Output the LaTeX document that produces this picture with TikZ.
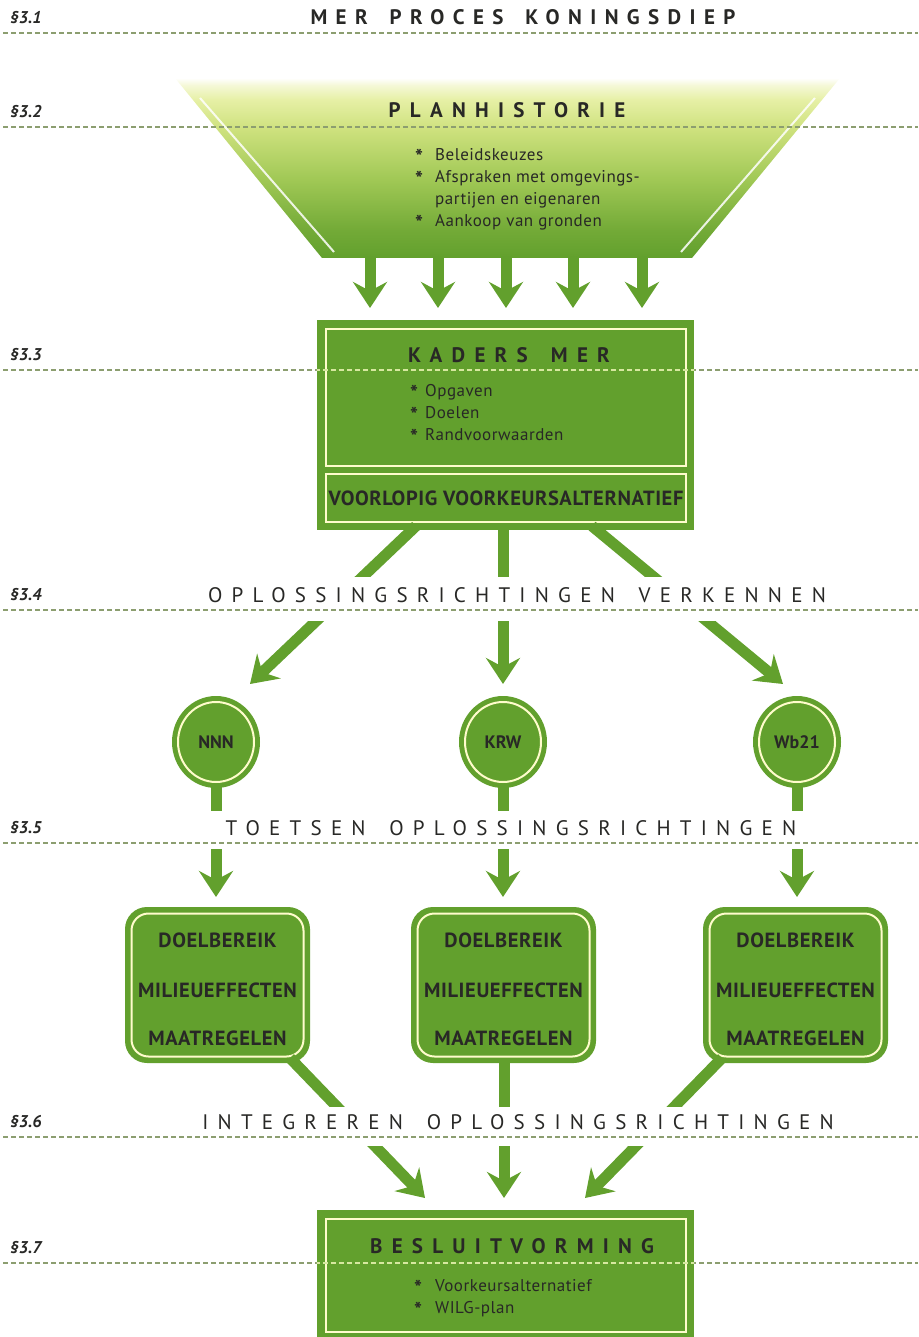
\documentclass[tikz,border=0pt]{standalone}
\usepackage{fontspec}
\setmainfont{PT Sans}
\newfontfamily\spacedA[LetterSpace=40,WordSpace=1.6]{PT Sans}
\newfontfamily\spacedB[LetterSpace=44,WordSpace=1.6]{PT Sans}
\newfontfamily\bodyf[LetterSpace=3]{PT Sans}
\usetikzlibrary{arrows.meta,shapes.geometric}
\definecolor{gr}{RGB}{98,160,45}
\definecolor{txt}{RGB}{40,40,38}
\definecolor{dashc}{RGB}{140,158,112}
\definecolor{dashlt}{RGB}{215,232,160}
\pgfdeclareverticalshading{trapshade}{100bp}{%
  color(0bp)=(gr); color(25bp)=(gr);
  rgb(32.8bp)=(0.451,0.667,0.216);
  rgb(46.7bp)=(0.627,0.784,0.333);
  rgb(60.6bp)=(0.804,0.882,0.490);
  rgb(68.9bp)=(0.902,0.941,0.647);
  rgb(73bp)=(0.961,0.973,0.843);
  color(75bp)=(white); color(100bp)=(white)}
\begin{document}
\begin{tikzpicture}[x=1pt,y=-1pt,
  sec/.style={font=\fontsize{17}{20}\selectfont\itshape\bfseries, text=txt, anchor=west, inner sep=0pt},
  ttlA/.style={font=\spacedA\fontsize{21}{24}\selectfont\bfseries, text=txt, inner sep=0pt},
  ttl/.style={font=\spacedB\fontsize{21}{24}\selectfont\bfseries, text=txt, inner sep=0pt},
  bttl/.style={font=\spacedB\fontsize{21}{24}\selectfont, text=txt, inner sep=0pt},
  dsh/.style={draw=dashc, line width=1.6pt, dash pattern=on 4.5pt off 3.5pt},
  dshlt/.style={draw=dashlt, line width=1.6pt, dash pattern=on 4.5pt off 3.5pt},
  gbox/.style={fill=gr, draw=none, rectangle, inner sep=0pt},
  wbox/.style={draw=white!80!yellow, line width=2pt, rectangle, inner sep=0pt},
  arr/.style={draw=gr, fill=gr, line width=11pt, -{Stealth[length=26pt,width=34pt,inset=9pt]}},
  lbl/.style={font=\bodyf\bfseries\fontsize{20.5}{22}\selectfont, text=txt, inner sep=0pt},
  clbl/.style={font=\bfseries\fontsize{18}{20}\selectfont, text=txt},
  bul/.style={font=\bodyf\fontsize{17}{22}\selectfont, text=txt, align=left, anchor=north west, inner sep=0pt},
  band/.style={fill=white, draw=none}
]
\useasboundingbox (0,0) rectangle (918,1337);

% ---------- Planhistorie trapezoid ----------
\shade[shading=trapshade]
  (175,78) -- (840,78) -- (692,258) -- (322,258) -- cycle;
\draw[white, line width=2pt, opacity=0.85] (200,98) -- (334,252);
\draw[white, line width=2pt, opacity=0.85] (815,98) -- (681,252);
\coordinate (plan) at (507,258);

% ---------- Kaders MER ----------
\node[gbox, minimum width=377pt, minimum height=210pt] (kaders) at (505.5,425) {};
\node[wbox, minimum width=360pt, minimum height=137pt] (kin) at (506,397.5) {};
\node[wbox, minimum width=360pt, minimum height=48pt, lbl] (vva) at (506,498) {VOORLOPIG VOORKEURSALTERNATIEF};

% ---------- arrows planhistorie -> kaders ----------
\foreach \x/\n in {370/1,438/2,506/3,573/4,642/5}{
  \coordinate (ps\n) at (\x,256);
  \coordinate (pt\n) at (\x,308);
  \draw[arr] (ps\n) -- (pt\n);
}

% ---------- circles ----------
\foreach \n/\x/\t in {nnn/216/NNN,krw/503/KRW,wb/797/Wb21}{
  \node[ellipse, fill=gr, draw=none, minimum width=88pt, minimum height=92pt, inner sep=0pt] (\n) at (\x,742) {};
  \node[ellipse, draw=white!80!yellow, line width=2pt, minimum width=76pt, minimum height=80pt, inner sep=0pt, clbl] (\n i) at (\x,742) {\t};
}

% ---------- rounded boxes ----------
\foreach \n/\x in {b1/217.5,b2/503.5,b3/795.5}{
  \node[fill=gr, draw=none, rounded corners=22pt, minimum width=185pt, minimum height=156pt, inner sep=0pt] (\n) at (\x,985) {};
  \node[draw=white!80!yellow, line width=2pt, rounded corners=17pt, minimum width=172pt, minimum height=143pt, inner sep=0pt] (\n i) at (\x,985) {};
  \node[lbl] (\n a) at (\x,940) {DOELBEREIK};
  \node[lbl] (\n b) at (\x,990) {MILIEUEFFECTEN};
  \node[lbl] (\n c) at (\x,1038) {MAATREGELEN};
}

% ---------- Besluitvorming ----------
\node[gbox, minimum width=377pt, minimum height=140pt] (besl) at (505.5,1280) {};
\node[wbox, minimum width=360pt, minimum height=113pt] (bin) at (506,1275.5) {};

% ---------- connectors ----------
\coordinate (k1) at (416,526);
\coordinate (k2) at (503,526);
\coordinate (k3) at (592,526);
\coordinate (c1) at (250,684);
\coordinate (c2) at (503,684);
\coordinate (c3) at (783,684);
\draw[arr] (k1) -- (c1);
\draw[arr] (k2) -- (c2);
\draw[arr] (k3) -- (c3);

\coordinate (s1) at (216,897);
\coordinate (s2) at (503,897);
\coordinate (s3) at (797,897);
\draw[arr] (nnn.south) ++(0,-4) -- (s1);
\draw[arr] (krw.south) ++(0,-4) -- (s2);
\draw[arr] (wb.south) ++(0,-4) -- (s3);

\coordinate (e1) at (290,1058);
\coordinate (e2) at (504,1060);
\coordinate (e3) at (722,1058);
\coordinate (f1) at (425,1198);
\coordinate (f2) at (504,1198);
\coordinate (f3) at (585,1198);
\draw[arr] (e1) -- (f1);
\draw[arr] (e2) -- (f2);
\draw[arr] (e3) -- (f3);

% ---------- white bands behind section titles ----------
\fill[band] (0,577) rectangle (918,621);
\fill[band] (0,811) rectangle (918,849);
\fill[band] (0,1107) rectangle (918,1146);

% ---------- dashed section lines ----------
\foreach \y in {33,127,370,610,843,1137,1263}{
  \draw[dsh] (3,\y) -- (918,\y);
}
\begin{scope}
  \clip (kaders.north west) rectangle (kaders.south east);
  \draw[dshlt] (3,370) -- (918,370);
\end{scope}
\begin{scope}
  \clip (besl.north west) rectangle (besl.south east);
  \draw[dshlt] (3,1263) -- (918,1263);
\end{scope}

% ---------- section labels ----------
\node[sec] (l1) at (10,18) {§3.1};
\node[sec] (l2) at (10,112) {§3.2};
\node[sec] (l3) at (10,355) {§3.3};
\node[sec] (l4) at (10,595) {§3.4};
\node[sec] (l5) at (10,828) {§3.5};
\node[sec] (l6) at (10,1122) {§3.6};
\node[sec] (l7) at (10,1248) {§3.7};

% ---------- titles ----------
\node[ttlA] (t1) at (523,17) {MER PROCES KONINGSDIEP};
\node[ttl] (t2) at (507,110) {PLANHISTORIE};
\node[ttl] (t3) at (509,355) {KADERS MER};
\node[bttl] (t4) at (517,595) {OPLOSSINGSRICHTINGEN VERKENNEN};
\node[bttl] (t5) at (511,828) {TOETSEN OPLOSSINGSRICHTINGEN};
\node[bttl] (t6) at (518,1122) {INTEGREREN OPLOSSINGSRICHTINGEN};
\node[ttl] (t7) at (512,1246) {BESLUITVORMING};

% ---------- bullet texts ----------
\newcommand{\bl}[1]{\makebox[#1][l]{\raisebox{-0.55ex}{\fontsize{21}{22}\selectfont\bfseries *}}}
\node[bul] (pb) at (415,148) {\bl{20pt}Beleidskeuzes\\\bl{20pt}Afspraken met omgevings-\\\hspace*{20pt}partijen en eigenaren\\\bl{20pt}Aankoop van gronden};
\node[bul] (kb) at (410,384) {\bl{15pt}Opgaven\\\bl{15pt}Doelen\\\bl{15pt}Randvoorwaarden};
\node[bul] (bb) at (414,1279) {\bl{21pt}Voorkeursalternatief\\\bl{21pt}WILG-plan};
\end{tikzpicture}
\end{document}
